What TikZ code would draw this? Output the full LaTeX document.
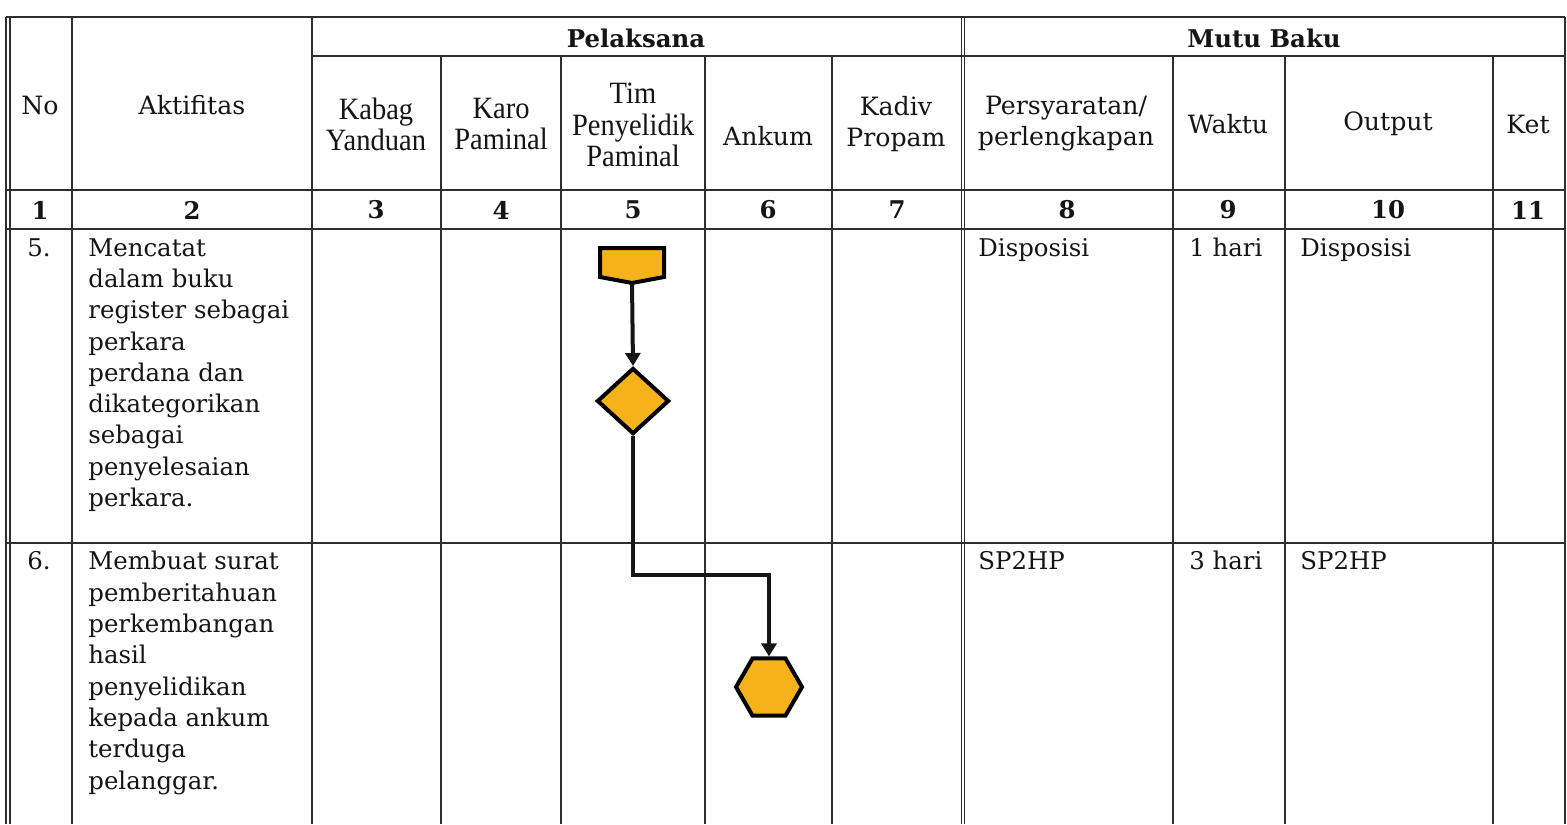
\documentclass[tikz,border=0pt]{standalone}
\usepackage{fontspec}
\setmainfont{DejaVu Serif}
\newfontfamily\narrowfont[FakeStretch=0.92]{Liberation Serif}
\usetikzlibrary{shapes.geometric,arrows.meta}
\definecolor{ink}{HTML}{151515}
\definecolor{gridc}{HTML}{2E2E2E}
\definecolor{fillor}{HTML}{F6B21B}
\begin{document}
\begin{tikzpicture}[x=0.5pt,y=-0.5pt,
 gridline/.style={draw=gridc,line width=0.75pt},
 hdr/.style={font=\fontsize{12.6}{15.5}\selectfont,text=ink,align=center,inner sep=0pt},
 nhdr/.style={font=\narrowfont\fontsize{15.5}{15.6}\selectfont,text=ink,align=center,inner sep=0pt},
 bhdr/.style={font=\bfseries\fontsize{12.2}{15.5}\selectfont,text=ink,inner sep=0pt},
 cell/.style={font=\fontsize{12.2}{15.65}\selectfont,text=ink,align=left,anchor=north west,inner sep=0pt},
 flow/.style={draw=black,line width=2pt,fill=fillor,inner sep=0pt},
 conn/.style={draw=ink,line width=2pt},
 tip/.style={-{Triangle[width=7.5pt,length=6.5pt]}}]
\useasboundingbox[fill=white] (0,0) rectangle (1567,824);
% horizontal lines
\draw[gridline,line width=0.9pt] (6,17) -- (1565,17);
\draw[gridline] (312,56) -- (1565,56);
\draw[gridline] (6,190) -- (1565,190);
\draw[gridline] (6,229) -- (1565,229);
\draw[gridline] (6,543) -- (1565,543);
% vertical lines
\draw[gridline] (6,17) -- (6,824);
\draw[gridline] (10,17) -- (10,824);
\draw[gridline] (72,17) -- (72,824);
\draw[gridline] (312,17) -- (312,824);
\foreach \xx in {441,561,705,832,1173,1285,1493} {\draw[gridline] (\xx,56) -- (\xx,824);}
\draw[gridline] (961.5,17) -- (961.5,824);
\draw[gridline] (964.5,17) -- (964.5,824);
\draw[gridline] (1565,17) -- (1565,824);
% header texts
\node[hdr] (hno) at (40,105) {No};
\node[hdr] (hakt) at (192,105) {Aktifitas};
\node[bhdr] (hpel) at (636,38) {Pelaksana};
\node[bhdr] (hmutu) at (1264,38) {Mutu Baku};
\node[nhdr] (hkabag) at (376,124) {Kabag\\Yanduan};
\node[nhdr] (hkaro) at (501,124) {Karo\\Paminal};
\node[nhdr] (htim) at (633,125) {Tim\\Penyelidik\\Paminal};
\node[hdr] (hankum) at (768,136) {Ankum};
\node[hdr] (hkadiv) at (896,124) {Kadiv\\Propam};
\node[hdr] (hpers) at (1066,124) {Persyaratan/\\perlengkapan};
\node[hdr] (hwaktu) at (1228,124) {Waktu};
\node[hdr] (hout) at (1388,124) {Output};
\node[hdr] (hket) at (1528,124) {Ket};
% number row
\foreach \xx/\nn in {40/1,192/2,376/3,501/4,633/5,768/6,897/7,1067/8,1228/9,1388/10,1528/11}
  {\node[bhdr] (n\nn) at (\xx,210) {\nn};}
% row 5
\node[cell] (r5no) at (27,238) {5.};
\node[cell] (r5akt) at (88,238) {Mencatat\\dalam buku\\register sebagai\\perkara\\perdana dan\\dikategorikan\\sebagai\\penyelesaian\\perkara.};
\node[cell] (r5pers) at (978,238) {Disposisi};
\node[cell] (r5waktu) at (1189,238) {1 hari};
\node[cell] (r5out) at (1300,238) {Disposisi};
% row 6
\node[cell] (r6no) at (27,551) {6.};
\node[cell] (r6akt) at (88,551) {Membuat surat\\pemberitahuan\\perkembangan\\hasil\\penyelidikan\\kepada ankum\\terduga\\pelanggar.};
\node[cell] (r6pers) at (978,551) {SP2HP};
\node[cell] (r6waktu) at (1189,551) {3 hari};
\node[cell] (r6out) at (1300,551) {SP2HP};
% flow shapes
\draw[flow] (600,248) -- (664,248) -- (664,277) -- (632,283) -- (600,277) -- cycle;
\coordinate (off) at (632,283);
\node[flow,diamond,minimum width=36pt,minimum height=33pt] (dia) at (633,401) {};
\node[flow,regular polygon,regular polygon sides=6,minimum size=33pt] (hex) at (769,687) {};
\coordinate (bend) at (700,575);
\draw[conn,tip] (off) -- (dia.north);
\draw[conn,tip] (dia.south) |- (bend) -| (hex.north);
\end{tikzpicture}
\end{document}
